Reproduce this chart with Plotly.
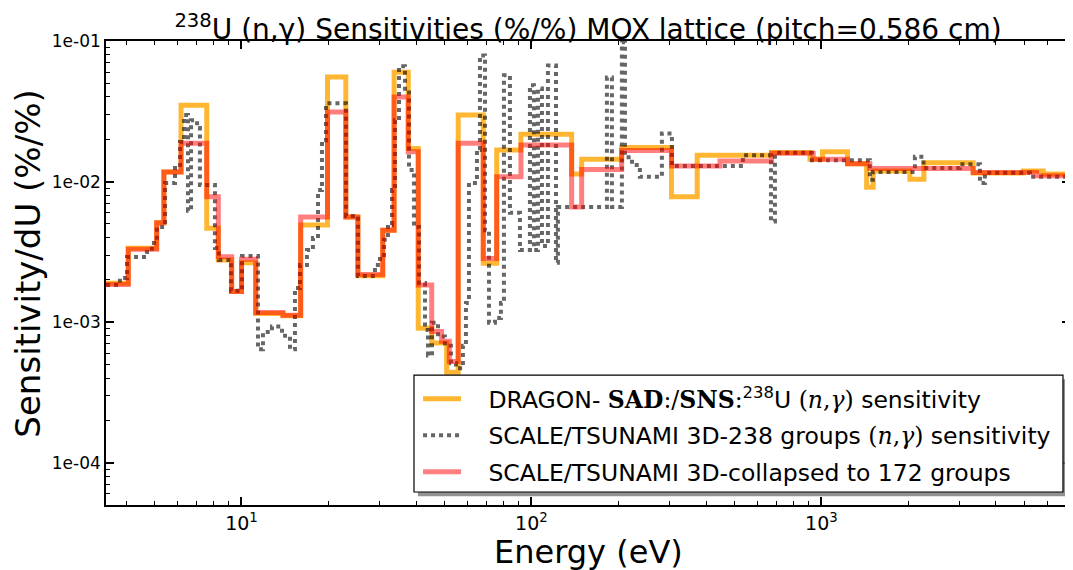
import plotly.graph_objects as go

E_MAX = 7200.0

# DRAGON 172-group sensitivity (group lower energy bounds, eV) and values
dragon_e = [3.41, 4.07, 5.10, 5.40, 6.19, 7.59, 8.32, 9.25, 10.0, 11.2, 13.9, 16.0, 19.8, 22.9,
            25.2, 30.7, 33.6, 37.6, 40.7, 45.3, 51.0, 55.9, 68.2, 75.9, 92.0, 137.6, 149.0, 204.7,
            304.0, 373.0, 673.0, 913.0, 1009.0, 1230.0, 1432.0, 1509.0, 2019.0, 2256.0, 3337.0,
            4966.0, 5821.0]
dragon_s = [1.89e-3, 3.36e-3, 5.1e-3, 1.17e-2, 3.49e-2, 4.65e-3, 2.77e-3, 1.65e-3, 2.64e-3, 1.15e-3,
            1.11e-3, 4.9e-3, 5.55e-2, 5.6e-3, 2.14e-3, 4.5e-3, 6.0e-2, 1.72e-2, 9.06e-4, 7.1e-4,
            4.4e-4, 2.97e-2, 2.62e-3, 1.68e-2, 2.17e-2, 1.13e-2, 1.44e-2, 1.75e-2, 7.8e-3, 1.54e-2,
            1.61e-2, 1.44e-2, 1.63e-2, 1.34e-2, 9.1e-3, 1.19e-2, 1.04e-2, 1.36e-2, 1.15e-2, 1.19e-2,
            1.13e-2]

# SCALE/TSUNAMI 238-group sensitivity
scale_e = [3.41, 3.81, 4.03, 4.72, 4.91, 5.11, 5.45, 5.90, 6.14, 6.34, 6.54, 6.70, 7.03, 7.19,
           8.10, 8.36, 9.20, 10.04, 11.40, 11.86, 12.74, 13.80, 14.70, 15.29, 15.91, 16.82, 17.64,
           18.36, 18.95, 19.56, 22.93, 25.22, 28.86, 30.04, 31.01, 32.01, 33.04, 33.84, 34.93,
           36.63, 37.82, 39.36, 40.95, 42.95, 43.98, 45.40, 47.61, 50.32, 52.77, 54.91, 58.04,
           59.44, 60.88, 64.88, 66.44, 69.15, 71.38, 74.85, 78.48, 80.37, 84.30, 91.28, 98.81,
           102.0, 105.3, 108.7, 114.0, 121.5, 123.4, 182.1, 189.5, 205.1, 210.1, 222.2, 236.6,
           281.8, 305.1, 536.2, 669.9, 691.5, 927.3, 1469.0, 1505.0, 2101.0, 2250.0, 3003.0,
           3521.0, 3663.0, 5236.0]
scale_s = [1.84e-3, 2.06e-3, 2.91e-3, 3.16e-3, 3.66e-3, 4.75e-3, 9.76e-3, 1.31e-2, 1.91e-2, 2.97e-2,
           6.2e-3, 2.73e-2, 2.4e-2, 9.44e-3, 3.37e-3, 2.77e-3, 1.67e-3, 2.96e-3, 6.4e-4, 8.5e-4,
           9.3e-4, 8.0e-4, 6.4e-4, 1.75e-3, 2.55e-3, 3.26e-3, 3.97e-3, 8.7e-3, 1.97e-2, 3.6e-2,
           5.7e-3, 2.13e-3, 2.55e-3, 3.0e-3, 3.85e-3, 4.9e-3, 8.7e-3, 2.73e-2, 6.6e-2, 4.3e-2,
           1.21e-2, 4.75e-3, 1.90e-3, 8.8e-4, 5.8e-4, 9.9e-4, 7.9e-4, 6.8e-4, 5.1e-4, 4.7e-4,
           6.8e-4, 1.37e-3, 9.76e-3, 1.68e-2, 7.9e-2, 4.5e-3, 9.9e-4, 1.07e-3, 1.37e-3, 5.7e-2,
           6.0e-3, 3.26e-3, 4.85e-2, 3.26e-3, 4.6e-2, 3.48e-3, 6.7e-2, 2.64e-3, 6.6e-3, 5.5e-2,
           6.6e-3, 9.8e-2, 1.49e-2, 1.31e-2, 1.08e-2, 2.2e-2, 1.29e-2, 1.54e-2, 5.2e-3, 1.6e-2,
           1.42e-2, 1.03e-2, 1.17e-2, 1.5e-2, 1.25e-2, 1.33e-2, 9.76e-3, 1.155e-2, 1.08e-2]

# SCALE/TSUNAMI collapsed to 172 groups
coll_e = [3.41, 4.07, 5.10, 5.40, 6.19, 7.59, 8.32, 9.25, 10.0, 11.2, 13.9, 16.0, 19.8, 22.9,
          25.2, 30.7, 33.6, 37.6, 40.7, 45.3, 49.0, 52.1, 55.9, 68.2, 75.9, 92.0, 137.6, 149.0,
          204.7, 304.0, 447.0, 673.0, 937.0, 1230.0, 1469.0, 3337.0, 5521.0]
coll_s = [1.85e-3, 3.3e-3, 5.1e-3, 1.17e-2, 1.87e-2, 7.8e-3, 2.92e-3, 1.65e-3, 2.8e-3, 1.17e-3,
          1.12e-3, 5.6e-3, 3.13e-2, 5.6e-3, 2.18e-3, 4.5e-3, 4.0e-2, 1.63e-2, 1.84e-3, 8.57e-4,
          7.3e-4, 5.25e-4, 1.87e-2, 2.84e-3, 1.08e-2, 1.82e-2, 6.6e-3, 1.22e-2, 1.66e-2, 1.29e-2,
          1.40e-2, 1.59e-2, 1.44e-2, 1.34e-2, 1.24e-2, 1.16e-2, 1.10e-2]

x_tickvals = [10, 100, 1000]
x_ticktext = ["10<sup>1</sup>", "10<sup>2</sup>", "10<sup>3</sup>"]
y_tickvals = [1e-4, 1e-3, 1e-2, 1e-1]
y_ticktext = ["1e-04", "1e-03", "1e-02", "1e-01"]

FONT = "DejaVu Sans"
SERIF_SPAN = "<span style=\"font-family:'DejaVu Serif'\">"
PAD = "&nbsp;&nbsp;&nbsp;"


def steps(e, s):
    return list(e) + [E_MAX], list(s) + [s[-1]]


fig = go.Figure()
x, y = steps(dragon_e, dragon_s)
fig.add_trace(go.Scatter(
    x=x, y=y, mode="lines", line=dict(shape="hv", color="rgba(255,165,0,0.8)", width=5),
    legendgroup="g1",
    name=(PAD + "DRAGON- " + SERIF_SPAN + "<b>SAD</b>:/<b>SNS</b>:</span>"
          "<sup>238</sup>U " + SERIF_SPAN + "(<i>n</i>,<i>γ</i>)</span> sensitivity")))
x, y = steps(scale_e, scale_s)
fig.add_trace(go.Scatter(
    x=x, y=y, mode="lines", line=dict(shape="hv", color="rgba(0,0,0,0.6)", width=4, dash="dot"),
    legendgroup="g2",
    name=(PAD + "SCALE/TSUNAMI 3D-238 groups " + SERIF_SPAN + "(<i>n</i>,<i>γ</i>)</span> sensitivity")))
x, y = steps(coll_e, coll_s)
fig.add_trace(go.Scatter(
    x=x, y=y, mode="lines", line=dict(shape="hv", color="rgba(255,0,0,0.5)", width=5),
    legendgroup="g3",
    name=PAD + "SCALE/TSUNAMI 3D-collapsed to 172 groups"))

x_minor = [m * 10 ** d for d in range(0, 4) for m in range(2, 10)]
y_minor = [m * 10.0 ** d for d in range(-5, -1) for m in range(2, 10)]

axis_common = dict(showline=True, linecolor="black", linewidth=1.5, mirror="ticks",
                   ticks="inside", ticklen=8, tickwidth=1.5, tickcolor="black",
                   showgrid=False, zeroline=False, automargin=False)

fig.update_xaxes(type="log", range=[0.5328, 3.8573], tickmode="array",
                 tickvals=x_tickvals, ticktext=x_ticktext,
                 tickfont=dict(family=FONT, size=19, color="black"),
                 minor=dict(tickmode="array", tickvals=x_minor, ticks="inside", ticklen=4,
                            tickcolor="black", tickwidth=1, showgrid=False),
                 **axis_common)
fig.update_yaxes(type="log", range=[-4.301, -1.0], tickmode="array",
                 tickvals=y_tickvals, ticktext=y_ticktext,
                 tickfont=dict(family=FONT, size=17, color="black"),
                 minor=dict(tickmode="array", tickvals=y_minor, ticks="inside", ticklen=4,
                            tickcolor="black", tickwidth=1, showgrid=False),
                 **axis_common)

# legend frame (white box with a soft shadow), in paper coordinates
box = dict(x0=0.3195, x1=0.9927, y0=0.028, y1=0.280)
shadow = dict(x0=box["x0"] + 0.004, x1=box["x1"] + 0.004, y0=box["y0"] - 0.009, y1=box["y1"] - 0.009)

fig.update_layout(
    template="none",
    width=1065, height=562,
    margin=dict(l=98, r=3, t=33, b=65, autoexpand=False),
    plot_bgcolor="white", paper_bgcolor="white",
    font=dict(family=FONT, color="black"),
    title=dict(text="<sup>238</sup>U (n,γ) Sensitivities (%/%) MOX lattice (pitch=0.586 cm)",
               x=0.5, xref="paper", xanchor="center", y=0.963, yanchor="middle",
               font=dict(family=FONT, size=28, color="black")),
    legend=dict(x=0.3237, y=0.276, xanchor="left", yanchor="top", itemwidth=38,
                tracegroupgap=3, bgcolor="rgba(0,0,0,0)", borderwidth=0,
                font=dict(family=FONT, size=23.5, color="black")),
    showlegend=True,
    shapes=[
        dict(type="rect", xref="paper", yref="paper", layer="above",
             line=dict(width=0), fillcolor="rgba(120,120,120,0.8)", **shadow),
        dict(type="rect", xref="paper", yref="paper", layer="above",
             line=dict(width=1.2, color="black"), fillcolor="white", **box),
    ],
    annotations=[
        dict(text="Energy (eV)", xref="paper", yref="paper", x=0.5, y=-0.101,
             xanchor="center", yanchor="middle", showarrow=False,
             font=dict(family=FONT, size=32, color="black")),
        dict(text="Sensitivity/dU (%/%)", xref="paper", yref="paper", x=-0.081, y=0.52,
             xanchor="center", yanchor="middle", textangle=-90, showarrow=False,
             font=dict(family=FONT, size=34, color="black")),
    ],
)

fig.write_html("out.html")
